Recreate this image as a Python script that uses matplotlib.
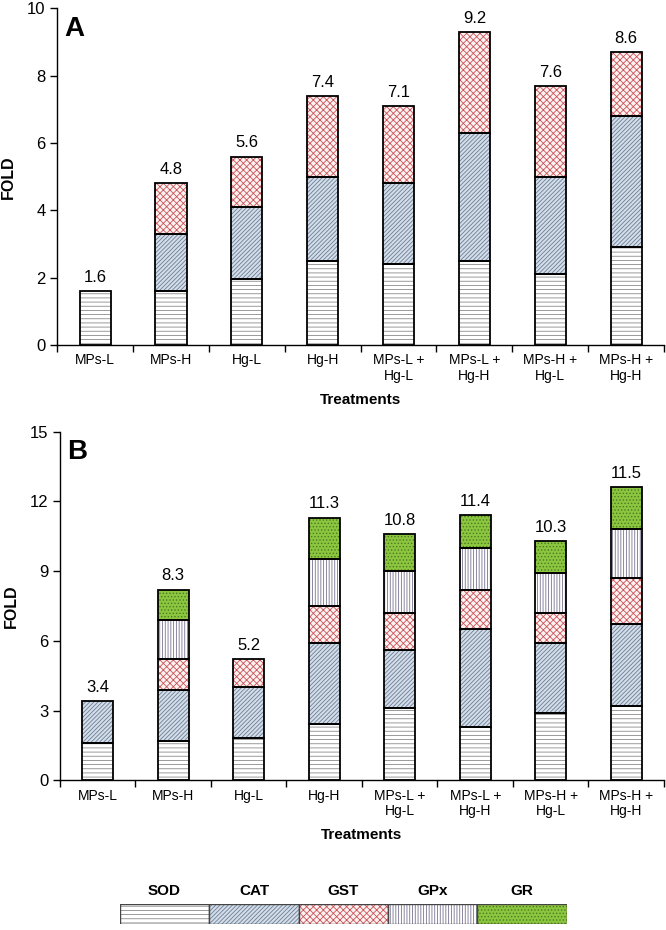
import numpy as np
import matplotlib
matplotlib.use("Agg")
import matplotlib.pyplot as plt

plt.rcParams["font.family"] = ["Liberation Sans", "DejaVu Sans"]
plt.rcParams["hatch.linewidth"] = 0.6

# ── Data ─────────────────────────────────────────────────────────────────────
treatments = ["MPs-L", "MPs-H", "Hg-L", "Hg-H",
              "MPs-L +\nHg-L", "MPs-L +\nHg-H", "MPs-H +\nHg-L", "MPs-H +\nHg-H"]
enzymes = ["SOD", "CAT", "GST", "GPx", "GR"]

# panel A: segment heights (fold)
a_sod = [1.6, 1.6, 1.95, 2.5, 2.4, 2.5, 2.1, 2.9]
a_cat = [0.0, 1.7, 2.15, 2.5, 2.4, 3.8, 2.9, 3.9]
a_gst = [0.0, 1.5, 1.5, 2.4, 2.3, 3.0, 2.7, 1.9]
a_labels = ["1.6", "4.8", "5.6", "7.4", "7.1", "9.2", "7.6", "8.6"]

# panel B: segment heights (fold)
b_sod = [1.6, 1.7, 1.8, 2.4, 3.1, 2.3, 2.9, 3.2]
b_cat = [1.8, 2.2, 2.2, 3.5, 2.5, 4.2, 3.0, 3.5]
b_gst = [0.0, 1.3, 1.2, 1.6, 1.6, 1.7, 1.3, 2.0]
b_gpx = [0.0, 1.7, 0.0, 2.0, 1.8, 1.8, 1.7, 2.1]
b_gr = [0.0, 1.3, 0.0, 1.8, 1.6, 1.4, 1.4, 1.8]
b_labels = ["3.4", "8.3", "5.2", "11.3", "10.8", "11.4", "10.3", "11.5"]

# fill colour, hatch colour, hatch pattern per enzyme
styles = {
    "SOD": ("white", "#8a8a8a", "----"),
    "CAT": ("#d3deea", "#6d7d94", "////////"),
    "GST": ("#fdf1f1", "#c8555a", "xxxxx"),
    "GPx": ("white", "#77728f", "||||||"),
    "GR": ("#8cc63f", "#4a7a22", "....."),
}


def stacked(ax, segments, names, labels, ymax, yticks, tag):
    x = np.arange(len(treatments))
    width = 0.41
    bottom = np.zeros(len(treatments))
    for vals, name in zip(segments, names):
        vals = np.array(vals)
        fc, hc, hatch = styles[name]
        mask = vals > 0
        ax.bar(x[mask], vals[mask], width, bottom=bottom[mask], color=fc,
               edgecolor=hc, hatch=hatch, linewidth=0, zorder=2)
        ax.bar(x[mask], vals[mask], width, bottom=bottom[mask], color="none",
               edgecolor="black", linewidth=1.3, zorder=3)
        bottom += vals
    for xi, top, lab in zip(x, bottom, labels):
        ax.text(xi, top + ymax * 0.018, lab, ha="center", va="bottom",
                fontsize=12)

    ax.set_xlim(-0.5, len(treatments) - 0.5)
    ax.set_ylim(0, ymax)
    ax.set_yticks(yticks)
    ax.tick_params(axis="y", direction="out", length=5, labelsize=12,
                   width=1)
    ax.set_xticks(np.arange(len(treatments) + 1) - 0.5)
    ax.set_xticklabels([])
    ax.set_xticks(x, minor=True)
    ax.set_xticklabels(treatments, minor=True, fontsize=10, linespacing=1.15)
    ax.tick_params(axis="x", which="major", direction="out", length=5, width=1)
    ax.tick_params(axis="x", which="minor", length=0, pad=6)
    for s in ["top", "right"]:
        ax.spines[s].set_visible(False)
    ax.spines["left"].set_linewidth(1)
    ax.spines["bottom"].set_linewidth(1)
    ax.set_ylabel("FOLD", fontsize=11.5, fontweight="bold", labelpad=8)
    ax.set_xlabel("Treatments", fontsize=11, fontweight="bold", labelpad=7)
    ax.text(0.012, 0.978, tag, transform=ax.transAxes, fontsize=20,
            fontweight="bold", va="top", ha="left")


fig = plt.figure(figsize=(6.66, 9.30), dpi=100)

ax_a = fig.add_axes([0.086, 0.629, 0.911, 0.362])
stacked(ax_a, [a_sod, a_cat, a_gst], ["SOD", "CAT", "GST"], a_labels,
        10, [0, 2, 4, 6, 8, 10], "A")

ax_b = fig.add_axes([0.090, 0.161, 0.907, 0.375])
stacked(ax_b, [b_sod, b_cat, b_gst, b_gpx, b_gr], enzymes, b_labels,
        15, [0, 3, 6, 9, 12, 15], "B")

# legend strip
ax_l = fig.add_axes([0.180, 0.006, 0.671, 0.022])
lx = np.arange(len(enzymes))
for i, name in enumerate(enzymes):
    fc, hc, hatch = styles[name]
    ax_l.bar(lx[i], 1, 1.0, align="edge", color=fc, edgecolor=hc,
             hatch=hatch, linewidth=0)
    ax_l.bar(lx[i], 1, 1.0, align="edge", color="none", edgecolor="#444444",
             linewidth=1)
    ax_l.text(lx[i] + 0.5, 1.3, name, ha="center", va="bottom",
              fontsize=11, fontweight="bold")
ax_l.set_xlim(0, len(enzymes))
ax_l.set_ylim(0, 1)
ax_l.axis("off")

fig.savefig("out.png", dpi=100)
